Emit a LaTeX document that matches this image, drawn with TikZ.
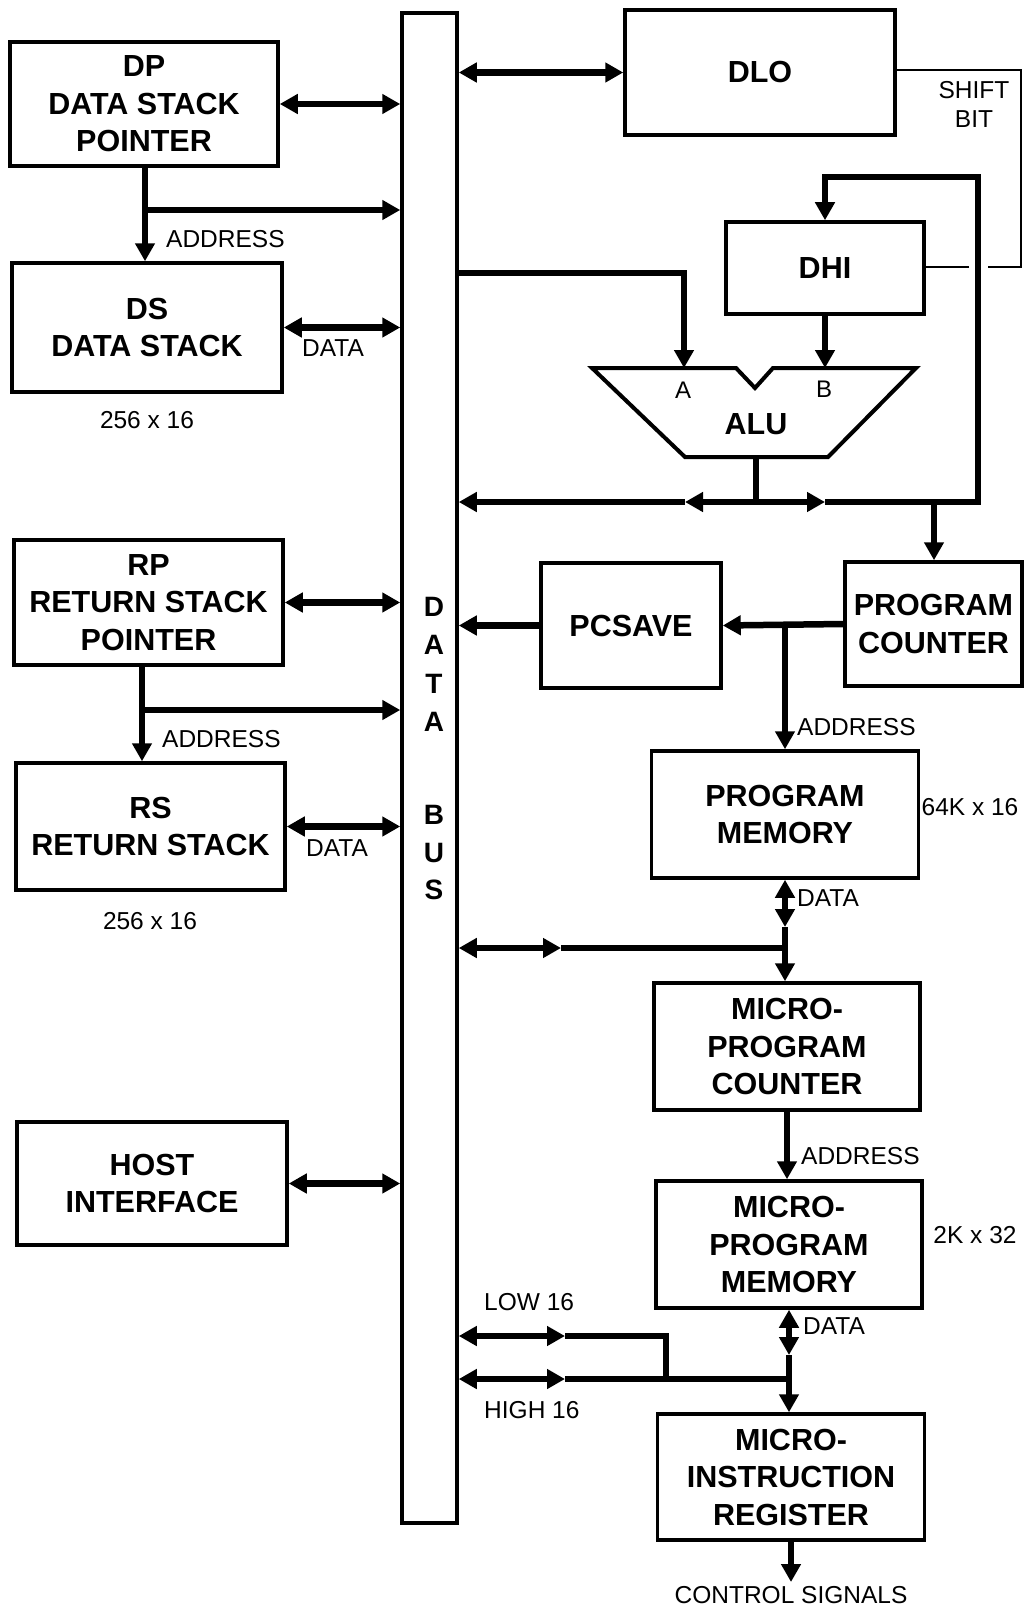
\documentclass[tikz,border=0pt]{standalone}
\usepackage{fontspec}
\setmainfont{Liberation Sans}
\usetikzlibrary{arrows.meta}
\begin{document}
\begin{tikzpicture}[x=1pt,y=-1pt,
  bigtip/.tip={Triangle[length=18pt,width=19pt]},
  box/.style={draw,line width=3.5pt,inner sep=0pt,align=center,
    font=\fontsize{30.5}{37.5}\selectfont\bfseries},
  lbl/.style={inner sep=0pt,font=\fontsize{24.5}{29}\selectfont},
  abl/.style={inner sep=0pt,font=\fontsize{24}{26}\selectfont},
  busletter/.style={inner sep=0pt,font=\fontsize{28}{30}\selectfont\bfseries},
  conn/.style={line width=6.5pt,line join=miter},
  fine/.style={line width=1.5pt},
]
\fill[white] (0,0) rectangle (1025,1608);
\useasboundingbox (0,0) rectangle (1025,1608);

% data bus
\node[draw,line width=3.5pt,minimum width=55pt,minimum height=1510pt,inner sep=0pt] (bus) at (429.5,768) {};
\node[busletter] (b1) at (434,607) {D};
\node[busletter] (b2) at (434,645) {A};
\node[busletter] (b3) at (434,684) {T};
\node[busletter] (b4) at (434,722) {A};
\node[busletter] (b5) at (434,815) {B};
\node[busletter] (b6) at (434,853) {U};
\node[busletter] (b7) at (434,890) {S};

% left boxes
\node[box,minimum width=268pt,minimum height=124pt] (dp) at (144,104) {DP\\DATA STACK\\POINTER};
\node[box,minimum width=270pt,minimum height=129pt] (ds) at (147,327.5) {DS\\DATA STACK};
\node[box,minimum width=269pt,minimum height=125pt] (rp) at (148.5,602.5) {RP\\RETURN STACK\\POINTER};
\node[box,minimum width=269pt,minimum height=127pt] (rs) at (150.5,826.5) {RS\\RETURN STACK};
\node[box,minimum width=270pt,minimum height=123pt] (host) at (152,1183.5) {HOST\\INTERFACE};

% right boxes
\node[box,minimum width=270pt,minimum height=125pt] (dlo) at (760,72.5) {DLO};
\node[box,minimum width=198pt,minimum height=92pt] (dhi) at (825,268) {DHI};
\node[box,minimum width=180pt,minimum height=125pt] (pcsave) at (631,625.5) {PCSAVE};
\node[box,minimum width=177pt,minimum height=124pt] (pc) at (933.5,624) {PROGRAM\\COUNTER};
\node[box,minimum width=267pt,minimum height=127pt] (pm) at (785,814.5) {PROGRAM\\MEMORY};
\node[box,minimum width=266pt,minimum height=127pt] (mpc) at (787,1046.5) {MICRO-\\PROGRAM\\COUNTER};
\node[box,minimum width=266pt,minimum height=127pt] (mpm) at (789,1244.5) {MICRO-\\PROGRAM\\MEMORY};
\node[box,minimum width=267pt,minimum height=126pt] (mir) at (791,1477) {MICRO-\\INSTRUCTION\\REGISTER};

% ALU
\draw[line width=4pt,line join=miter] (592,368) -- (736,368) -- (755,388) -- (773,368) -- (916,368) -- (828,457) -- (685,457) -- cycle;
\coordinate (aluA) at (684,368);
\coordinate (aluB) at (825,368);
\coordinate (aluO) at (756,457);
\node[abl] (la) at (683,390) {A};
\node[abl] (lb) at (824,389) {B};
\node[box,draw=none] (alu) at (756,424) {ALU};

% left connectors
\coordinate (dpj) at (145,210);
\draw[conn,bigtip-bigtip] (dp.east) -- (dp.east -| bus.west);
\draw[conn,-bigtip] (dp.south -| dpj) -- (dpj |- ds.north);
\draw[conn,-bigtip] (dpj) -- (dpj -| bus.west);
\draw[conn,bigtip-bigtip] (ds.east) -- (ds.east -| bus.west);

\coordinate (rpj) at (142,710);
\draw[conn,bigtip-bigtip] (rp.east) -- (rp.east -| bus.west);
\draw[conn,-bigtip] (rp.south -| rpj) -- (rpj |- rs.north);
\draw[conn,-bigtip] (rpj) -- (rpj -| bus.west);
\draw[conn,bigtip-bigtip] (rs.east) -- (rs.east -| bus.west);
\draw[conn,bigtip-bigtip] (host.east) -- (host.east -| bus.west);

% DLO / shift bit
\draw[conn,bigtip-bigtip] (bus.east |- dlo.west) -- (dlo.west);
\coordinate (sb1) at (1021,70);
\coordinate (sb2) at (1021,267);
\coordinate (sbg1) at (988,267);
\coordinate (sbg2) at (969,267);
\draw[fine] (dlo.east |- sb1) -- (sb1) -- (sb2) -- (sbg1);
\draw[fine] (sbg2) -- (sbg2 -| dhi.east);
\node[lbl,align=center] (shift) at (974,104) {SHIFT\\BIT};

% ALU inputs
\coordinate (aj) at (684,273);
\draw[conn,-bigtip] (bus.east |- aj) -- (aj) -- (aluA);
\draw[conn,-bigtip] (dhi.south) -- (aluB);

% ALU output
\coordinate (ao) at (756,502);
\coordinate (aml) at (685,502);
\coordinate (amr) at (825,502);
\coordinate (fb1) at (978,502);
\coordinate (fb2) at (978,177);
\coordinate (fb3) at (825,177);
\coordinate (pcj) at (934,502);
\draw[conn] (aluO) -- (ao);
\draw[conn,-bigtip] (ao) -- (aml);
\draw[conn,-bigtip] (aml) -- (bus.east |- aml);
\draw[conn,-bigtip] (ao) -- (amr);
\draw[conn,-bigtip] (amr) -- (fb1) -- (fb2) -- (fb3) -- (dhi.north);
\draw[conn,-bigtip] (pcj) -- (pcj |- pc.north);

% program counter
\draw[conn,-bigtip] (pc.west) -- (pcsave.east);
\draw[conn,-bigtip] (pcsave.west) -- (pcsave.west -| bus.east);
\coordinate (pmj) at (785,624);
\draw[conn,-bigtip] (pmj) -- (pm.north);

% program memory data
\coordinate (pmd) at (785,927);
\coordinate (pmh) at (785,948);
\coordinate (pmm) at (561,948);
\draw[conn,bigtip-bigtip] (pm.south) -- (pmd);
\draw[conn,-bigtip] (pmd) -- (pmd |- mpc.north);
\draw[conn,bigtip-bigtip] (pmh -| bus.east) -- (pmm);
\draw[conn] (pmm) -- (pmh);

% micro program
\draw[conn,-bigtip] (mpc.south) -- (mpc.south |- mpm.north);
\coordinate (mmd) at (789,1355);
\draw[conn,bigtip-bigtip] (mpm.south) -- (mmd);
\draw[conn,-bigtip] (mmd) -- (mmd |- mir.north);

\coordinate (lowm) at (565,1336);
\coordinate (lowc) at (666,1336);
\coordinate (lowd) at (666,1379);
\coordinate (highm) at (565,1379);
\coordinate (highj) at (789,1379);
\draw[conn,bigtip-bigtip] (lowm -| bus.east) -- (lowm);
\draw[conn] (lowm) -- (lowc) -- (lowd);
\draw[conn,bigtip-bigtip] (highm -| bus.east) -- (highm);
\draw[conn] (highm) -- (highj);

\coordinate (cs) at (791,1582);
\draw[conn,-bigtip] (mir.south) -- (cs);
\node[lbl] (ctl) at (791,1595) {CONTROL SIGNALS};

% labels
\node[lbl,anchor=west] (adr1) at (166,239) {ADDRESS};
\node[lbl] (dat1) at (333,348) {DATA};
\node[lbl] (sz1) at (147,420) {256 x 16};
\node[lbl,anchor=west] (adr2) at (162,739) {ADDRESS};
\node[lbl] (dat2) at (337,848) {DATA};
\node[lbl] (sz2) at (150,921) {256 x 16};
\node[lbl,anchor=west] (adr3) at (797,727) {ADDRESS};
\node[lbl] (sz3) at (970,807) {64K x 16};
\node[lbl,anchor=west] (dat3) at (797,898) {DATA};
\node[lbl,anchor=west] (adr4) at (801,1156) {ADDRESS};
\node[lbl] (sz4) at (975,1235) {2K x 32};
\node[lbl,anchor=west] (dat4) at (803,1326) {DATA};
\node[lbl,anchor=west] (low) at (484,1302) {LOW 16};
\node[lbl,anchor=west] (high) at (484,1410) {HIGH 16};
\end{tikzpicture}
\end{document}
